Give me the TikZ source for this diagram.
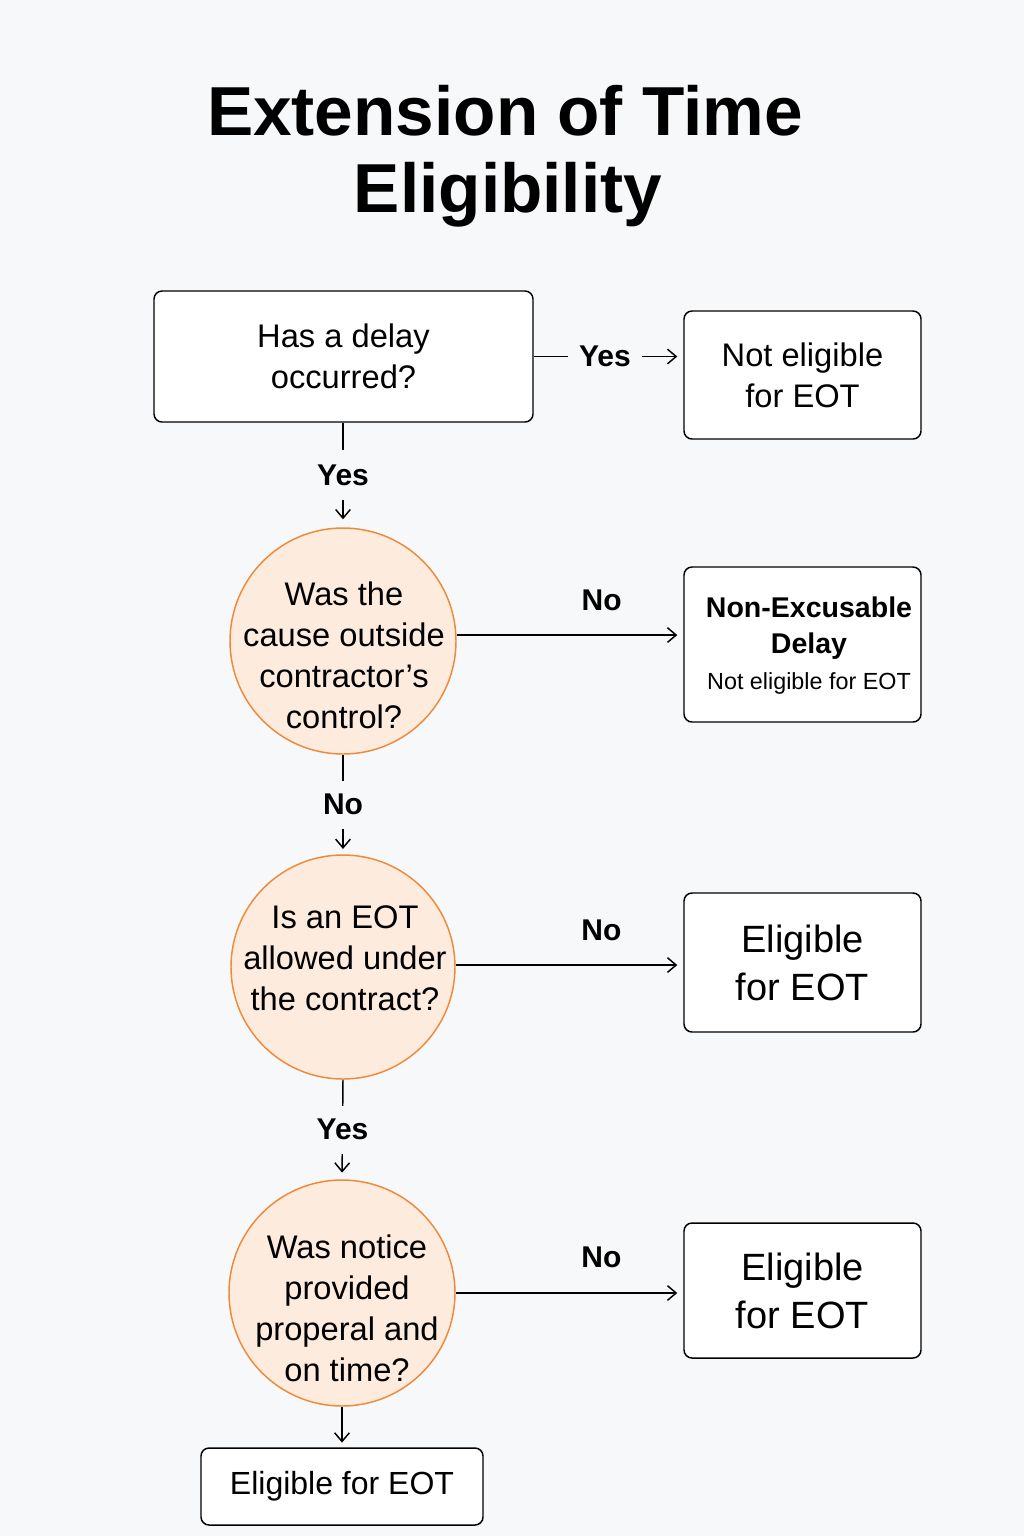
\documentclass[tikz,border=0pt]{standalone}
\usepackage{fontspec}
\setmainfont{Liberation Sans}
\usetikzlibrary{arrows.meta}
\definecolor{bg}{HTML}{F7F8FA}
\definecolor{peach}{HTML}{FDEBDD}
\definecolor{orangeline}{HTML}{F0893A}
\tikzset{
  box/.style={draw=black, line width=1.1pt, fill=white, rounded corners=6pt, align=center, inner sep=0pt},
  dec/.style={circle, draw=orangeline, line width=1.1pt, fill=peach, inner sep=0pt, minimum size=169.5pt},
  dectxt/.style={align=center, inner sep=0pt, font=\fontsize{24.5}{30.75}\selectfont},
  conn/.style={line width=1.1pt, -{Straight Barb[length=6.5pt,width=11pt,line width=1.1pt]}},
  gaplbl/.style={fill=bg, inner sep=0pt, font=\fontsize{22.5}{26}\selectfont\bfseries},
  toplbl/.style={inner sep=0pt, font=\fontsize{22.5}{26}\selectfont\bfseries},
  maintxt/.style={font=\fontsize{24.5}{30.75}\selectfont},
  bigtxt/.style={font=\fontsize{28.5}{36}\selectfont},
}
\begin{document}
\begin{tikzpicture}[x=0.75pt,y=-0.75pt]
\fill[bg] (0,0) rectangle (1024,1536);
\useasboundingbox (0,0) rectangle (1024,1536);

% title
\node[anchor=base, font=\fontsize{52}{58}\selectfont\bfseries] (t1) at (505,135) {Extension of Time};
\node[anchor=base, font=\fontsize{52}{58}\selectfont\bfseries] (t2) at (508,212) {Eligibility};

% boxes and decisions
\node[box, maintxt, minimum width=284.25pt, minimum height=98.25pt] (b1) at (343.5,356.5) {Has a delay\\occurred?};
\node[box, maintxt, minimum width=177.75pt, minimum height=96pt] (r1) at (802.5,375) {Not eligible\\for EOT};

\node[dec] (c1) at (343,641) {};
\node[dectxt] (c1t) at (344,655) {Was the\\cause outside\\contractor’s\\control?};

\node[box, minimum width=177.75pt, minimum height=116.25pt] (r2) at (802.5,644.5) {};
\node[align=center, inner sep=0pt, font=\fontsize{21.4}{27}\selectfont\bfseries] (r2t) at (809,646)
  {Non-Excusable\\Delay\\{\fontsize{17.5}{20}\selectfont\mdseries Not eligible for EOT}};

\node[dec, minimum size=168pt] (c2) at (343,967) {};
\node[dectxt] (c2t) at (345,958) {Is an EOT\\allowed under\\the contract?};

\node[box, bigtxt, minimum width=177.75pt, minimum height=104.25pt] (r3) at (802.5,962.5) {Eligible\\for EOT};

\node[dec] (c3) at (342,1293) {};
\node[dectxt] (c3t) at (347,1308) {Was notice\\provided\\properal and\\on time?};

\node[box, bigtxt, minimum width=177.75pt, minimum height=101.25pt] (r4) at (802.5,1290.5) {Eligible\\for EOT};
\node[box, font=\fontsize{24}{30}\selectfont, minimum width=211.5pt, minimum height=57.75pt] (b5) at (342,1486.5) {Eligible for EOT};

% connectors
\draw[conn, shorten >=4.5pt] (b1.east) -- (b1.east -| r1.west)
  node[gaplbl, pos=0.476, minimum width=55.5pt, minimum height=20pt] (l1) {Yes};
\draw[conn, shorten >=6pt] (b1.south -| c1.north) -- (c1.north)
  node[gaplbl, midway, minimum height=37.5pt, minimum width=40pt] (l2) {Yes};
\draw[conn, shorten >=4.5pt] (c1.3.5) -- (c1.3.5 -| r2.west)
  node[toplbl, pos=0.64, above=18pt] (l3) {No};
\draw[conn, shorten >=4pt] (c1.south) -- (c2.north)
  node[gaplbl, midway, minimum height=36pt, minimum width=40pt] (l4) {No};
\draw[conn, shorten >=4.5pt] (c2.1) -- (c2.1 -| r3.west)
  node[toplbl, pos=0.64, above=18pt] (l5) {No};
\draw[conn, shorten >=5pt] (c2.south) -- (c3.north)
  node[gaplbl, midway, minimum height=36pt, minimum width=40pt] (l6) {Yes};
\draw[conn, shorten >=4.5pt] (c3.east) -- (c3.east -| r4.west)
  node[toplbl, pos=0.64, above=18pt] (l7) {No};
\draw[conn, shorten >=3.5pt] (c3.south) -- (b5.north);
\end{tikzpicture}
\end{document}
